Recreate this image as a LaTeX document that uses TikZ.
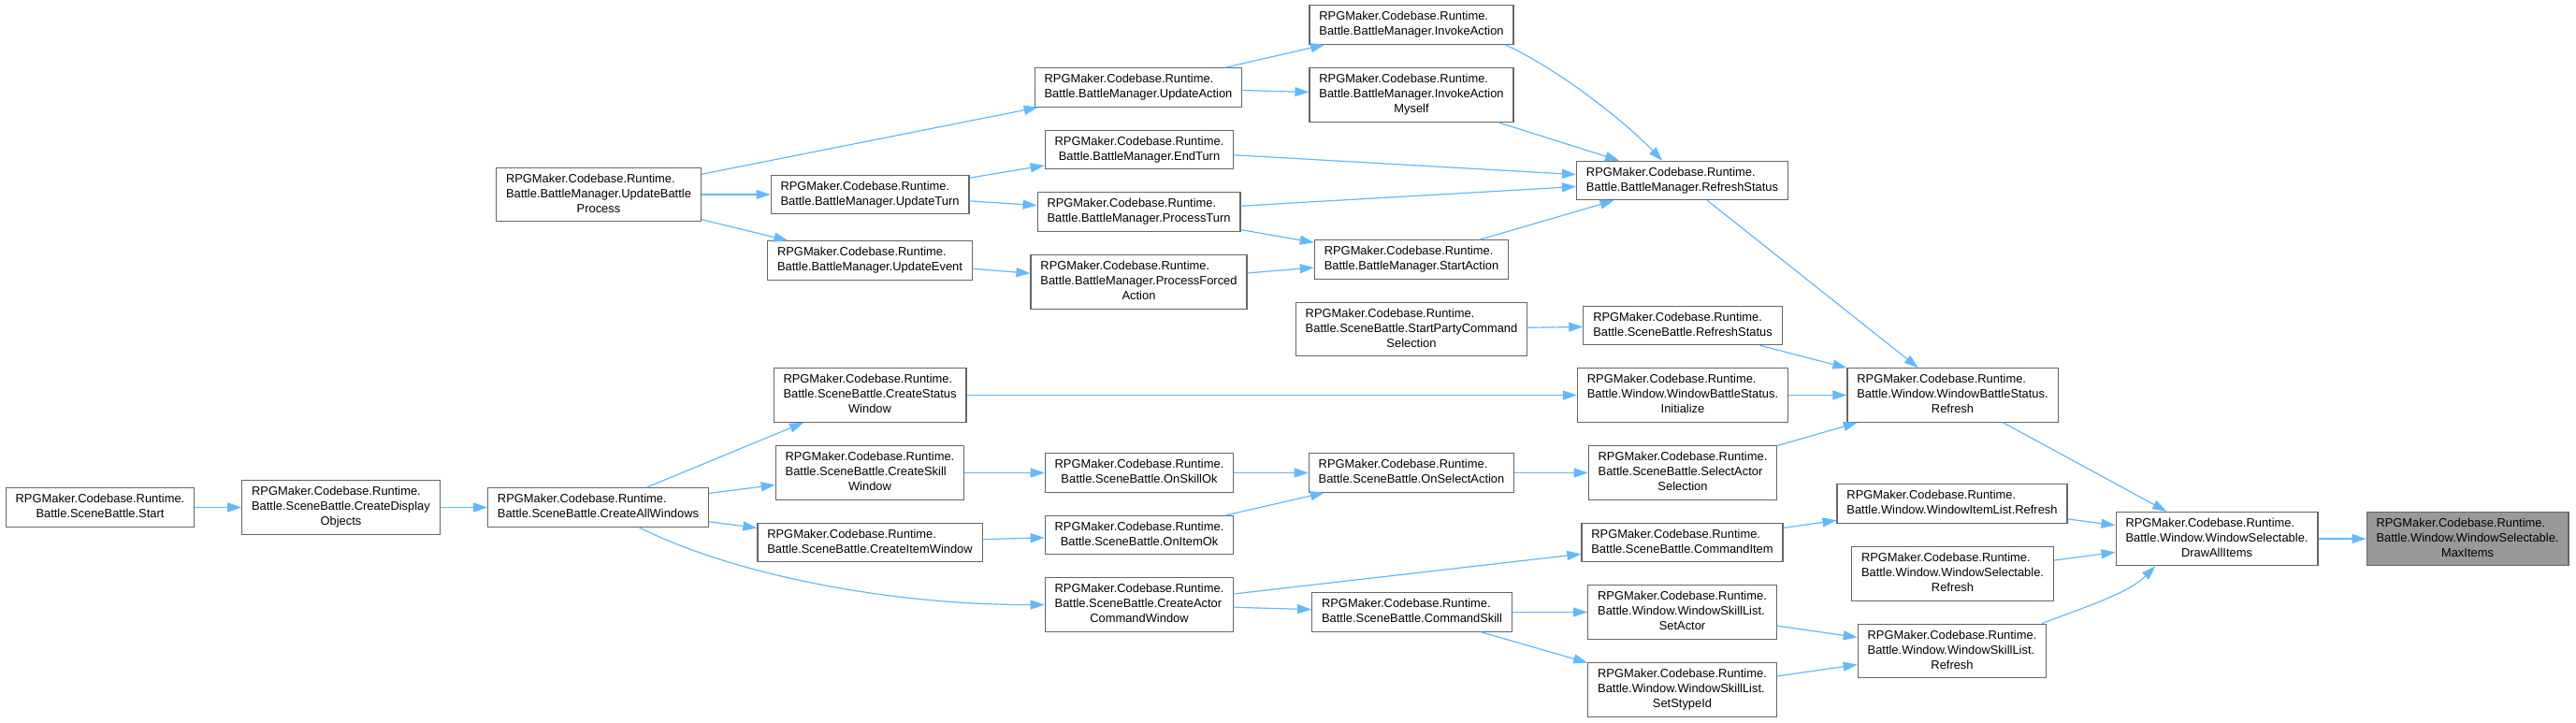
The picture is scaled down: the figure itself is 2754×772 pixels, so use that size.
\documentclass[tikz,border=0pt]{standalone}
\usepackage{fontspec}
\setmainfont{Liberation Sans}
\usepackage{tikz}
\usetikzlibrary{arrows.meta}
\definecolor{edgeblue}{HTML}{63B8FF}
\definecolor{nodeline}{HTML}{666666}
\definecolor{nodehi}{HTML}{999999}
\newcommand{\fnii}[1]{\begin{tabular}{@{}l@{}}RPGMaker.Codebase.Runtime.\\\multicolumn{1}{@{}c@{}}{#1}\end{tabular}}
\newcommand{\fniii}[2]{\begin{tabular}{@{}l@{}}RPGMaker.Codebase.Runtime.\\#1\\\multicolumn{1}{@{}c@{}}{#2}\end{tabular}}

\begin{document}
\begin{tikzpicture}[x=1pt,y=-1pt,
    fn/.style={draw=nodeline, line width=1.2pt, fill=white, inner xsep=10.4pt, inner ysep=4.7pt,
      font=\fontsize{12.9}{16}\selectfont},
    call/.style={draw, color=edgeblue, line width=1.2pt, -{Triangle[length=15pt,width=10pt]}}]
    \useasboundingbox[fill=white] (0,0) rectangle (2754,772);

    \node[fn] (1) at (107,542.5) {\fnii{Battle.SceneBattle.Start}};
    \node[fn] (2) at (364.5,542.5) {\fniii{Battle.SceneBattle.CreateDisplay}{Objects}};
    \node[fn] (3) at (639.5,542.5) {\fnii{Battle.SceneBattle.CreateAllWindows}};
    \node[fn] (4) at (640,208) {\fniii{Battle.BattleManager.UpdateBattle}{Process}};
    \node[fn] (5) at (1217,93.5) {\fnii{Battle.BattleManager.UpdateAction}};
    \node[fn] (6) at (930,208) {\fnii{Battle.BattleManager.UpdateTurn}};
    \node[fn] (7) at (930,278.5) {\fnii{Battle.BattleManager.UpdateEvent}};
    \node[fn] (8) at (930,422.5) {\fniii{Battle.SceneBattle.CreateStatus}{Window}};
    \node[fn] (9) at (930,505.5) {\fniii{Battle.SceneBattle.CreateSkill}{Window}};
    \node[fn] (10) at (930,580) {\fnii{Battle.SceneBattle.CreateItemWindow}};
    \node[fn] (11) at (1218,160) {\fnii{Battle.BattleManager.EndTurn}};
    \node[fn] (12) at (1217.5,226.5) {\fnii{Battle.BattleManager.ProcessTurn}};
    \node[fn] (13) at (1217.5,301.5) {\fniii{Battle.BattleManager.ProcessForced}{Action}};
    \node[fn] (14) at (1218,505.5) {\fnii{Battle.SceneBattle.OnSkillOk}};
    \node[fn] (15) at (1218,572) {\fnii{Battle.SceneBattle.OnItemOk}};
    \node[fn] (16) at (1218,646.5) {\fniii{Battle.SceneBattle.CreateActor}{CommandWindow}};
    \node[fn] (17) at (1509,26.5) {\fnii{Battle.BattleManager.InvokeAction}};
    \node[fn] (18) at (1509,101.5) {\fniii{Battle.BattleManager.InvokeAction}{Myself}};
    \node[fn] (19) at (1509,277.5) {\fnii{Battle.BattleManager.StartAction}};
    \node[fn] (20) at (1509,352) {\fniii{Battle.SceneBattle.StartPartyCommand}{Selection}};
    \node[fn] (21) at (1509,505.5) {\fnii{Battle.SceneBattle.OnSelectAction}};
    \node[fn] (22) at (1509.5,654.5) {\fnii{Battle.SceneBattle.CommandSkill}};
    \node[fn] (23) at (1798.5,193) {\fnii{Battle.BattleManager.RefreshStatus}};
    \node[fn] (24) at (1799,348) {\fnii{Battle.SceneBattle.RefreshStatus}};
    \node[fn] (25) at (1799,422.5) {\fniii{Battle.Window.WindowBattleStatus.}{Initialize}};
    \node[fn] (26) at (1799,505.5) {\fniii{Battle.SceneBattle.SelectActor}{Selection}};
    \node[fn] (27) at (1798.5,580) {\fnii{Battle.SceneBattle.CommandItem}};
    \node[fn] (28) at (1798.5,654.5) {\fniii{Battle.Window.WindowSkillList.}{SetActor}};
    \node[fn] (29) at (1798.5,737.5) {\fniii{Battle.Window.WindowSkillList.}{SetStypeId}};
    \node[fn] (30) at (2087.5,422.5) {\fniii{Battle.Window.WindowBattleStatus.}{Refresh}};
    \node[fn] (31) at (2087,538.5) {\fnii{Battle.Window.WindowItemList.Refresh}};
    \node[fn] (32) at (2087.5,613.5) {\fniii{Battle.Window.WindowSelectable.}{Refresh}};
    \node[fn] (33) at (2087,696) {\fniii{Battle.Window.WindowSkillList.}{Refresh}};
    \node[fn] (34) at (2370,576) {\fniii{Battle.Window.WindowSelectable.}{DrawAllItems}};
    \node[fn, fill=nodehi] (35) at (2638,576) {\fniii{Battle.Window.WindowSelectable.}{MaxItems}};

    \path
    (1) [call] edge (2)
    (2) [call] edge (3)
    (3) [call] edge (8)
    (3) [call] edge (9)
    (3) [call] edge (10)
    (4) [call] edge (5)
    (4) [call] edge (6)
    (4) [call] edge (7)
    (5) [call] edge (17)
    (5) [call] edge (18)
    (6) [call] edge (11)
    (6) [call] edge (12)
    (7) [call] edge (13)
    (8) [call] edge (25)
    (9) [call] edge (14)
    (10) [call] edge (15)
    (11) [call] edge (23)
    (12) [call] edge (23)
    (12) [call] edge (19)
    (13) [call] edge (19)
    (14) [call] edge (21)
    (15) [call] edge (21)
    (16) [call] edge (27)
    (16) [call] edge (22)
    (18) [call] edge (23)
    (19) [call] edge (23)
    (20) [call] edge (24)
    (21) [call] edge (26)
    (22) [call] edge (28)
    (22) [call] edge (29)
    (23) [call] edge (30)
    (24) [call] edge (30)
    (25) [call] edge (30)
    (26) [call] edge (30)
    (27) [call] edge (31)
    (28) [call] edge (33)
    (29) [call] edge (33)
    (30) [call] edge (34)
    (31) [call] edge (34)
    (32) [call] edge (34)
    (34) [call] edge (35);

    % bent calls
    \draw[call] (3.-26) .. controls (783,614) and (950,647) .. (16.west);
    \draw[call] (17.-12) .. controls (1668,75) and (1737,130) .. (23.135);
    \draw[call] (33.17) .. controls (2223,651) and (2275,635) .. (34.-156);
\end{tikzpicture}
\end{document}
